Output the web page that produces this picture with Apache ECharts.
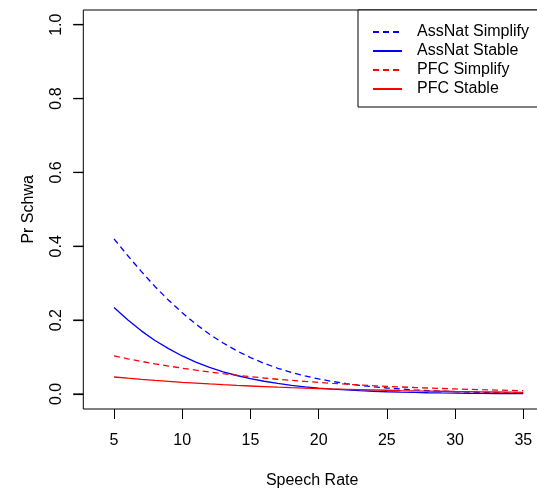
<!DOCTYPE html>
<html>
<head>
<meta charset="utf-8">
<script src="https://cdn.jsdelivr.net/npm/echarts@6/dist/echarts.min.js"></script>
<style>
html,body{margin:0;padding:0;background:#fff;}
#chart{width:537px;height:490px;}
</style>
</head>
<body>
<div id="chart"></div>
<script>
const speechRate = [5,6,7,8,9,10,11,12,13,14,15,16,17,18,19,20,21,22,23,24,25,26,27,28,29,30,31,32,33,34,35];
const assNatSimplify = [0.420,0.375,0.332,0.291,0.254,0.220,0.189,0.162,0.138,0.117,0.0986,0.0830,0.0697,0.0584,0.0489,0.0408,0.0340,0.0283,0.0235,0.0196,0.0163,0.0135,0.0112,0.0093,0.0077,0.0064,0.0053,0.0044,0.0036,0.0030,0.0025];
const assNatStable = [0.234,0.201,0.171,0.145,0.123,0.103,0.0865,0.0723,0.0602,0.0501,0.0416,0.0345,0.0286,0.0236,0.0195,0.0161,0.0133,0.0110,0.0090,0.0075,0.0061,0.0051,0.0042,0.0034,0.0028,0.0023,0.0019,0.0016,0.0013,0.0011,0.0009];
const pfcSimplify = [0.103,0.0954,0.0884,0.0818,0.0756,0.0699,0.0646,0.0597,0.0552,0.0509,0.0470,0.0433,0.0400,0.0368,0.0340,0.0313,0.0288,0.0266,0.0245,0.0225,0.0207,0.0191,0.0176,0.0162,0.0149,0.0137,0.0126,0.0116,0.0107,0.0098,0.0090];
const pfcStable = [0.0460,0.0428,0.0397,0.0368,0.0342,0.0317,0.0294,0.0272,0.0252,0.0234,0.0217,0.0201,0.0186,0.0172,0.0160,0.0148,0.0137,0.0127,0.0117,0.0109,0.0101,0.0093,0.0086,0.0080,0.0074,0.0068,0.0063,0.0058,0.0054,0.0050,0.0046];
const xTicks = [5,10,15,20,25,30,35];
const yTicks = [0,0.2,0.4,0.6,0.8,1.0];
const seriesNames = ['AssNat Simplify','AssNat Stable','PFC Simplify','PFC Stable'];

const FONT = '"Liberation Sans", Arial, Helvetica, sans-serif';
function pairs(ys){ return speechRate.map((x,i)=>[x, ys[i]]); }
function mk(name, ys, color, dashed){
  return {
    name, type:'line', data: pairs(ys), symbol:'none', showSymbol:false,
    xAxisIndex:0, yAxisIndex:0,
    lineStyle:{color, width:1.3, type: dashed ? [6,4] : 'solid'},
    itemStyle:{color}, animation:false, silent:true, clip:false
  };
}
const yMin = yTicks[0], yMax = yTicks[yTicks.length-1];
const chart = echarts.init(document.getElementById('chart'), null, {renderer:'canvas'});
chart.setOption({
  animation:false,
  backgroundColor:'#fff',
  grid:[
    {left:114, right:13.7, top:24.7, bottom:96, show:false, containLabel:false, outerBoundsMode:'none'},
    {left:83.3, right:-3, top:10, bottom:81, show:true, borderColor:'#000', borderWidth:1, backgroundColor:'rgba(0,0,0,0)', containLabel:false, outerBoundsMode:'none', z:0},
    {left:73.3, right:453.7, top:24.7, bottom:96, show:false, containLabel:false, outerBoundsMode:'none'}
  ],
  xAxis:[{
    gridIndex:0, type:'value', min:xTicks[0], max:xTicks[xTicks.length-1], interval:5,
    position:'bottom', offset:15,
    name:'Speech Rate', nameLocation:'middle', nameGap:64,
    nameTextStyle:{fontFamily:FONT, fontSize:16, color:'#000', padding:[0,13,0,0]},
    axisLine:{show:false, onZero:false},
    axisTick:{show:true, inside:false, length:10, lineStyle:{color:'#000', width:1}},
    axisLabel:{fontFamily:FONT, fontSize:16, color:'#000', margin:24, formatter:v=>String(v)},
    splitLine:{show:false}
  },{
    gridIndex:1, type:'value', show:false, min:0, max:1
  },{
    gridIndex:2, type:'value', show:false, min:0, max:1
  }],
  yAxis:[{
    gridIndex:0, type:'value', min:yMin, max:yMax, interval:0.2,
    position:'left', offset:30.7, z:10,
    name:'Pr Schwa', nameLocation:'middle', nameGap:47, nameRotate:90,
    nameTextStyle:{fontFamily:FONT, fontSize:16, color:'#000'},
    axisLine:{show:false, onZero:false},
    axisTick:{show:true, inside:false, length:10, lineStyle:{color:'#000', width:1.2}},
    axisLabel:{fontFamily:FONT, fontSize:16, color:'#000', margin:19, rotate:90, formatter:v=>Number(v).toFixed(1)},
    splitLine:{show:false}
  },{
    gridIndex:1, type:'value', show:false, min:0, max:1
  },{
    gridIndex:2, type:'value', show:false, min:yMin, max:yMax
  }],
  legend:{
    data:seriesNames,
    orient:'vertical', left:358, top:10,
    itemWidth:29, itemHeight:14, itemGap:3,
    padding:[14,12,10,14],
    borderColor:'#000', borderWidth:1, backgroundColor:'#fff',
    itemStyle:{opacity:0},
    textStyle:{fontFamily:FONT, fontSize:16, color:'#000', padding:[0,0,0,10]},
    selectedMode:false
  },
  series:[
    mk(seriesNames[0], assNatSimplify, '#0000ff', true),
    mk(seriesNames[1], assNatStable, '#0000ff', false),
    mk(seriesNames[2], pfcSimplify, '#ff0000', true),
    mk(seriesNames[3], pfcStable, '#ff0000', false),
    {
      name:'yTickMarks', type:'scatter', xAxisIndex:2, yAxisIndex:2,
      data: yTicks.map(v=>[0.5, v]),
      symbol:'rect', symbolSize:[10,1.2], z:20,
      itemStyle:{color:'#000', opacity:1}, silent:true, animation:false, clip:false
    }
  ]
});
</script>
</body>
</html>
